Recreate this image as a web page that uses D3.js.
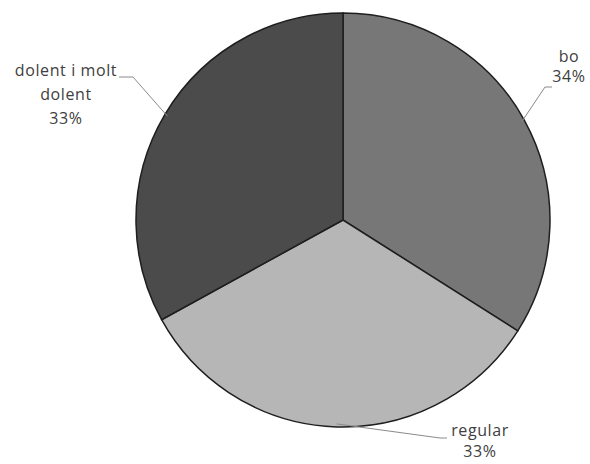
<!DOCTYPE html>
<html>
<head>
<meta charset="utf-8">
<script src="https://cdn.jsdelivr.net/npm/d3@7"></script>
<style>
  body { margin: 0; background: #fff; }
  text { font-family: "Open Sans", "DejaVu Sans", sans-serif; font-size: 16px; letter-spacing: 0.6px; fill: #404040; }
</style>
</head>
<body>
<div class="graph"></div>
<script>
// data
var categories = ["bo", "regular", "dolent i molt dolent"];
var values = [34, 33, 33];
var labelLines = [["bo", "34%"], ["regular", "33%"], ["dolent i molt", "dolent", "33%"]];
var colors = ["#777777", "#b6b6b6", "#4b4b4b"];

var width = 590, height = 464;
var cx = 343, cy = 220, radius = 207;

var svg = d3.select("div.graph").append("svg")
    .attr("width", width)
    .attr("height", height);

var g = svg.append("g")
    .attr("transform", "translate(" + cx + "," + cy + ")");

var pie = d3.pie().sort(null).value(function(d) { return d; });
var arc = d3.arc().innerRadius(0).outerRadius(radius);
var arcs = pie(values);

g.selectAll("path.slice")
  .data(arcs)
  .enter().append("path")
    .attr("class", "slice")
    .attr("d", arc)
    .attr("fill", function(d, i) { return colors[i]; })
    .attr("stroke", "#1e1e1e")
    .attr("stroke-width", 1.5);

// label placement (relative to centre): leader elbow + end, text anchor, line spacing
var labelPos = [
  {elbow: [202, -133], end: [209, -133], text: [226, -158], gap: 20},
  {elbow: [97, 218], end: [104, 218], text: [137, 216], gap: 21},
  {elbow: [-210, -143], end: [-224, -143], text: [-277, -144], gap: 24}
];

var pointOn = function(d, r) {
  var a = (d.startAngle + d.endAngle) / 2;
  return [Math.sin(a) * r, -Math.cos(a) * r];
};

// leader lines
g.selectAll("polyline.leader")
  .data(arcs)
  .enter().append("polyline")
    .attr("class", "leader")
    .attr("fill", "none")
    .attr("stroke", "#8a8a8a")
    .attr("stroke-width", 1)
    .attr("points", function(d, i) {
      var p0 = pointOn(d, radius - 3);
      var lp = labelPos[i];
      return [p0, lp.elbow, lp.end].map(function(p) { return p.join(","); }).join(" ");
    });

// labels
g.selectAll("text.label")
  .data(arcs)
  .enter().append("text")
    .attr("class", "label")
    .attr("text-anchor", "middle")
    .attr("transform", function(d, i) { return "translate(" + labelPos[i].text + ")"; })
    .each(function(d, i) {
      var t = d3.select(this);
      labelLines[i].forEach(function(line, k) {
        t.append("tspan")
          .attr("x", 0)
          .attr("dy", k === 0 ? 0 : labelPos[i].gap)
          .text(line);
      });
    });
</script>
</body>
</html>
